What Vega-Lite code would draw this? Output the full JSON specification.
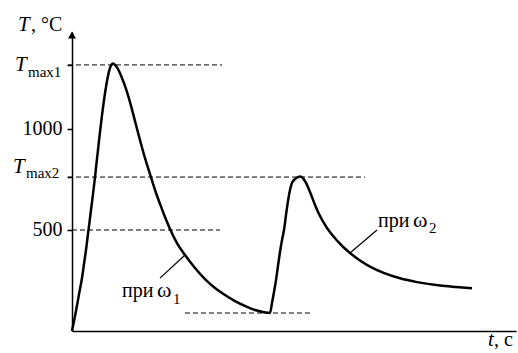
{
  "$schema": "https://vega.github.io/schema/vega-lite/v6.json",
  "width": 444,
  "height": 299,
  "autosize": {"type": "none"},
  "padding": {"left": 72, "top": 32, "right": 2, "bottom": 22},
  "background": "white",
  "config": {"view": {"stroke": null}},
  "resolve": {"axis": {"x": "independent", "y": "independent"}},
  "datasets": {
    "curve": [
      {"t": 0, "T": 0}, {"t": 2, "T": 49}, {"t": 4, "T": 99}, {"t": 6, "T": 154}, {"t": 8, "T": 208},
      {"t": 10, "T": 262}, {"t": 12, "T": 332}, {"t": 14, "T": 401}, {"t": 16, "T": 480}, {"t": 18, "T": 559},
      {"t": 20, "T": 638}, {"t": 22, "T": 718}, {"t": 24, "T": 807}, {"t": 26, "T": 896}, {"t": 28, "T": 985},
      {"t": 30, "T": 1069}, {"t": 32, "T": 1143}, {"t": 34, "T": 1208}, {"t": 36, "T": 1262}, {"t": 38, "T": 1302},
      {"t": 40, "T": 1322}, {"t": 41, "T": 1324}, {"t": 44, "T": 1312}, {"t": 47, "T": 1287}, {"t": 50, "T": 1252},
      {"t": 54, "T": 1198}, {"t": 58, "T": 1133}, {"t": 63, "T": 1039}, {"t": 68, "T": 945}, {"t": 73, "T": 856},
      {"t": 78, "T": 777}, {"t": 83, "T": 698}, {"t": 88, "T": 629}, {"t": 93, "T": 564}, {"t": 98, "T": 505},
      {"t": 105, "T": 435}, {"t": 113, "T": 376}, {"t": 123, "T": 312}, {"t": 133, "T": 257}, {"t": 143, "T": 213},
      {"t": 153, "T": 178}, {"t": 163, "T": 148}, {"t": 173, "T": 124}, {"t": 183, "T": 104}, {"t": 191, "T": 94},
      {"t": 198, "T": 89}, {"t": 200, "T": 139}, {"t": 202, "T": 193}, {"t": 204, "T": 252}, {"t": 206, "T": 322},
      {"t": 208, "T": 391}, {"t": 210, "T": 450}, {"t": 212, "T": 500}, {"t": 214, "T": 574}, {"t": 216, "T": 643},
      {"t": 218, "T": 698}, {"t": 220, "T": 733}, {"t": 223, "T": 752}, {"t": 226, "T": 762}, {"t": 228, "T": 765},
      {"t": 231, "T": 757}, {"t": 234, "T": 733}, {"t": 238, "T": 688}, {"t": 243, "T": 624}, {"t": 248, "T": 569},
      {"t": 255, "T": 510}, {"t": 263, "T": 459}, {"t": 270, "T": 422}, {"t": 278, "T": 386}, {"t": 288, "T": 349},
      {"t": 298, "T": 319}, {"t": 311, "T": 289}, {"t": 328, "T": 261}, {"t": 345, "T": 242}, {"t": 368, "T": 225},
      {"t": 384, "T": 218}, {"t": 400, "T": 212}
    ],
    "dashes": [
      {"x1": -4, "x2": 150, "T": 1317},
      {"x1": 0, "x2": 148, "T": 500},
      {"x1": -4, "x2": 293, "T": 762},
      {"x1": 113, "x2": 240, "T": 89}
    ],
    "leaders": [
      {"x1": 88, "T1": 262, "x2": 113, "T2": 376},
      {"x1": 305, "T1": 500, "x2": 278, "T2": 386}
    ],
    "italic": [
      {"t": -54, "T": 1485, "label": "T"},
      {"t": -57, "T": 1287, "label": "T"},
      {"t": -59, "T": 782, "label": "T"},
      {"t": 416, "T": -74, "label": "t"}
    ],
    "regular": [
      {"t": -41, "T": 1485, "label": ", °C"},
      {"t": 50, "T": 168, "label": "при"},
      {"t": 306, "T": 515, "label": "при"},
      {"t": 422, "T": -74, "label": ", с"}
    ],
    "omega": [
      {"t": 85, "T": 168, "label": "ω"},
      {"t": 341, "T": 515, "label": "ω"}
    ],
    "small": [
      {"t": -44, "T": 1257, "label": "max1"},
      {"t": -46, "T": 757, "label": "max2"},
      {"t": 101, "T": 134, "label": "1"},
      {"t": 357, "T": 485, "label": "2"}
    ],
    "arrow": [{"t": 0, "T": 1465}]
  },
  "layer": [
    {
      "data": {"name": "curve"},
      "mark": {"type": "line", "color": "black", "strokeWidth": 2.5, "interpolate": "monotone"},
      "encoding": {
        "x": {"field": "t", "type": "quantitative", "scale": {"domain": [0, 444], "nice": false, "zero": false},
              "axis": {"title": null, "labels": false, "ticks": false, "grid": false, "domainColor": "black", "domainWidth": 1.5}},
        "y": {"field": "T", "type": "quantitative", "scale": {"domain": [0, 1480], "nice": false, "zero": false},
              "axis": {"title": null, "values": [500, 1000, 762, 1317], "format": "d",
                       "labelExpr": "datum.value == 500 || datum.value == 1000 ? datum.label : ''",
                       "grid": false, "tickSize": 5, "tickColor": "black", "tickWidth": 1.5,
                       "domainColor": "black", "domainWidth": 1.5, "labelFont": "Liberation Serif, Times New Roman, serif",
                       "labelFontSize": 20, "labelColor": "black", "labelPadding": 5, "labelFlush": false}}
      }
    },
    {
      "data": {"name": "dashes"},
      "mark": {"type": "rule", "color": "black", "strokeWidth": 1, "strokeDash": [5, 3]},
      "encoding": {
        "x": {"field": "x1", "type": "quantitative", "scale": {"domain": [0, 444], "nice": false, "zero": false}, "axis": null},
        "x2": {"field": "x2"},
        "y": {"field": "T", "type": "quantitative", "scale": {"domain": [0, 1480], "nice": false, "zero": false}, "axis": null}
      }
    },
    {
      "data": {"name": "leaders"},
      "mark": {"type": "rule", "color": "black", "strokeWidth": 1.2},
      "encoding": {
        "x": {"field": "x1", "type": "quantitative", "axis": null},
        "x2": {"field": "x2"},
        "y": {"field": "T1", "type": "quantitative", "axis": null},
        "y2": {"field": "T2"}
      }
    },
    {
      "data": {"name": "arrow"},
      "mark": {"type": "point", "shape": "triangle-up", "filled": true, "color": "black", "size": 64, "opacity": 1},
      "encoding": {
        "x": {"field": "t", "type": "quantitative", "axis": null},
        "y": {"field": "T", "type": "quantitative", "axis": null}
      }
    },
    {
      "data": {"name": "italic"},
      "mark": {"type": "text", "font": "Liberation Serif, Times New Roman, serif", "fontStyle": "italic", "fontSize": 21, "align": "left", "baseline": "alphabetic", "color": "black"},
      "encoding": {
        "x": {"field": "t", "type": "quantitative", "axis": null},
        "y": {"field": "T", "type": "quantitative", "axis": null},
        "text": {"field": "label"}
      }
    },
    {
      "data": {"name": "regular"},
      "mark": {"type": "text", "font": "Liberation Serif, Times New Roman, serif", "fontSize": 20, "align": "left", "baseline": "alphabetic", "color": "black"},
      "encoding": {
        "x": {"field": "t", "type": "quantitative", "axis": null},
        "y": {"field": "T", "type": "quantitative", "axis": null},
        "text": {"field": "label"}
      }
    },
    {
      "data": {"name": "omega"},
      "mark": {"type": "text", "font": "Liberation Serif, Times New Roman, serif", "fontSize": 22, "align": "left", "baseline": "alphabetic", "color": "black"},
      "encoding": {
        "x": {"field": "t", "type": "quantitative", "axis": null},
        "y": {"field": "T", "type": "quantitative", "axis": null},
        "text": {"field": "label"}
      }
    },
    {
      "data": {"name": "small"},
      "mark": {"type": "text", "font": "Liberation Serif, Times New Roman, serif", "fontSize": 15, "align": "left", "baseline": "alphabetic", "color": "black"},
      "encoding": {
        "x": {"field": "t", "type": "quantitative", "axis": null},
        "y": {"field": "T", "type": "quantitative", "axis": null},
        "text": {"field": "label"}
      }
    }
  ]
}
